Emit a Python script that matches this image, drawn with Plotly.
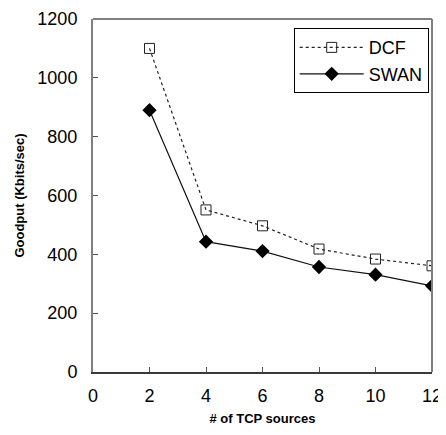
import plotly.graph_objects as go

x_vals = [2, 4, 6, 8, 10, 12]
dcf = [1100, 551, 497, 418, 384, 361]
swan = [890, 443, 411, 357, 331, 293]
x_ticks = [0, 2, 4, 6, 8, 10, 12]
y_ticks = [0, 200, 400, 600, 800, 1000, 1200]

FONT = "Liberation Sans, Arial"

fig = go.Figure()
fig.add_trace(go.Scatter(
    x=x_vals, y=dcf, name="DCF", mode="lines+markers",
    line=dict(color="#222222", width=1.2, dash="dot"),
    marker=dict(symbol="square-open", size=10, color="#222222", line=dict(width=1)),
))
fig.add_trace(go.Scatter(
    x=x_vals, y=swan, name="SWAN", mode="lines+markers",
    line=dict(color="#111111", width=1.2),
    marker=dict(symbol="diamond", size=11, color="#000000"),
))

common = dict(
    showline=True, linewidth=2, mirror=False, automargin=False,
    ticks="inside", ticklen=5, tickcolor="#555555", showgrid=False, zeroline=False,
    ticklabeloverflow="allow",
    tickfont=dict(family=FONT, size=18, color="#000000"),
)
fig.update_xaxes(range=[0, 12], tickvals=x_ticks, linecolor="#3a3a3a", ticklabelstandoff=6, **common,
                 title=dict(text="<b># of TCP sources</b>",
                            font=dict(family=FONT, size=13, color="#000"),
                            standoff=11))
fig.update_yaxes(range=[0, 1200], tickvals=y_ticks, linecolor="#808080", ticklabelstandoff=10, **common,
                 title=dict(text="<b>Goodput (Kbits/sec)</b>",
                            font=dict(family=FONT, size=13, color="#000"),
                            standoff=10))

fig.add_shape(type="line", xref="paper", yref="paper", x0=0, x1=1, y0=1, y1=1,
              line=dict(color="#808080", width=2))
fig.add_shape(type="line", xref="paper", yref="paper", x0=1, x1=1, y0=0, y1=1,
              line=dict(color="#808080", width=2))

# page has an 8px body margin, so the figure is sized/margined to compensate
fig.update_layout(
    width=438, height=418,
    margin=dict(l=85, r=14, t=11, b=54),
    paper_bgcolor="white", plot_bgcolor="white",
    showlegend=True,
    legend=dict(x=0.592, y=0.974, xanchor="left", yanchor="top",
                bordercolor="#000000", borderwidth=1, bgcolor="white",
                font=dict(family=FONT, size=18, color="#000"),
                tracegroupgap=0, itemwidth=64),
)
fig.write_html("out.html")
